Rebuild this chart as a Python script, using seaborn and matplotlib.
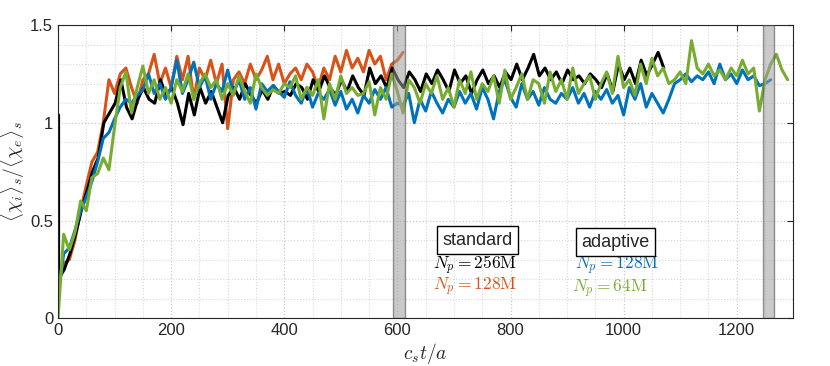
import matplotlib
matplotlib.use("Agg")
import matplotlib.pyplot as plt
import seaborn as sns
import pandas as pd
from matplotlib.ticker import MultipleLocator, FuncFormatter

# time grids (c_s t / a)
t_blue = list(range(0, 1261, 10))
t_green = list(range(0, 1291, 10))
t_black = [1] + list(range(1, 1072, 10))
t_orange = list(range(0, 611, 10))

# standard, N_p = 256M
chi_black = [1.04,
    0.20, 0.25, 0.33, 0.43, 0.55, 0.65, 0.75, 0.82, 1.00, 1.05,
    1.10, 1.22, 1.08, 1.02, 1.12, 1.18, 1.12, 1.10, 1.22, 1.14,
    1.18, 1.10, 0.99, 1.15, 1.04, 1.18, 1.10, 1.16, 1.08, 1.00,
    1.14, 1.18, 1.12, 1.20, 1.14, 1.10, 1.17, 1.12, 1.19, 1.15,
    1.16, 1.14, 1.20, 1.18, 1.12, 1.22, 1.16, 1.24, 1.18, 1.14,
    1.22, 1.16, 1.24, 1.18, 1.14, 1.28, 1.20, 1.24, 1.18, 1.28,
    1.22, 1.18, 1.26, 1.22, 1.16, 1.25, 1.20, 1.27, 1.22, 1.16,
    1.27, 1.20, 1.24, 1.15, 1.22, 1.27, 1.20, 1.24, 1.18, 1.26,
    1.22, 1.30, 1.22, 1.28, 1.35, 1.24, 1.28, 1.22, 1.26, 1.20,
    1.27, 1.22, 1.24, 1.20, 1.25, 1.22, 1.18, 1.25, 1.16, 1.30,
    1.22, 1.28, 1.20, 1.32, 1.24, 1.30, 1.36, 1.28]

# standard, N_p = 128M
chi_orange = [
    0.22, 0.28, 0.30, 0.40, 0.55, 0.68, 0.80, 0.85, 1.00, 1.22,
    1.15, 1.25, 1.28, 1.18, 1.10, 1.22, 1.25, 1.35, 1.20, 1.28,
    1.18, 1.34, 1.22, 1.34, 1.12, 1.28, 1.22, 1.32, 1.20, 1.30,
    0.97, 1.22, 1.26, 1.20, 1.30, 1.22, 1.27, 1.34, 1.22, 1.30,
    1.20, 1.25, 1.28, 1.22, 1.30, 1.26, 1.18, 1.28, 1.22, 1.34,
    1.26, 1.37, 1.28, 1.33, 1.26, 1.37, 1.30, 1.34, 1.22, 1.30,
    1.32, 1.36]

# adaptive, N_p = 128M
chi_blue = [
    0.12, 0.33, 0.36, 0.45, 0.55, 0.62, 0.70, 0.80, 0.92, 0.95,
    1.02, 1.08, 1.12, 1.10, 1.14, 1.17, 1.25, 1.15, 1.20, 1.12,
    1.18, 1.32, 1.15, 1.22, 1.31, 1.18, 1.24, 1.12, 1.20, 1.16,
    1.27, 1.15, 1.22, 1.12, 1.18, 1.07, 1.20, 1.16, 1.19, 1.16,
    1.13, 1.21, 1.14, 1.10, 1.18, 1.08, 1.15, 1.12, 1.17, 1.09,
    1.16, 1.07, 1.12, 1.05, 1.14, 1.10, 1.17, 1.12, 1.18, 1.08,
    1.10, 1.09, 1.15, 1.00, 1.12, 1.06, 1.16, 1.10, 1.05, 1.12,
    1.08, 1.16, 1.10, 1.15, 1.07, 1.18, 1.12, 1.02, 1.16, 1.22,
    1.13, 1.08, 1.20, 1.12, 1.16, 1.09, 1.18, 1.12, 1.10, 1.15,
    1.12, 1.18, 1.10, 1.15, 1.08, 1.16, 1.12, 1.17, 1.10, 1.14,
    1.04, 1.18, 1.12, 1.20, 1.08, 1.15, 1.10, 1.05, 1.12, 1.20,
    1.22, 1.25, 1.21, 1.24, 1.22, 1.26, 1.20, 1.30, 1.22, 1.25,
    1.20, 1.27, 1.22, 1.24, 1.19, 1.20, 1.22]

# adaptive, N_p = 64M
chi_green = [
    0.00, 0.43, 0.35, 0.44, 0.60, 0.55, 0.72, 0.74, 0.82, 0.76,
    0.98, 1.18, 1.26, 1.05, 1.18, 1.29, 1.15, 1.22, 1.12, 1.18,
    1.10, 1.22, 1.16, 1.25, 1.12, 1.20, 1.25, 1.18, 1.22, 1.12,
    1.20, 1.14, 1.24, 1.16, 1.10, 1.25, 1.18, 1.14, 1.17, 1.15,
    1.20, 1.18, 1.24, 1.12, 1.18, 1.14, 1.22, 1.02, 1.20, 1.12,
    1.24, 1.15, 1.18, 1.14, 1.15, 1.21, 1.04, 1.18, 1.12, 1.25,
    1.16, 1.05, 1.22, 1.18, 1.10, 1.20, 1.15, 1.24, 1.12, 1.18,
    1.08, 1.22, 1.15, 1.26, 1.12, 1.20, 1.16, 1.24, 1.10, 1.27,
    1.12, 1.18, 1.25, 1.12, 1.22, 1.20, 1.10, 1.26, 1.16, 1.22,
    1.12, 1.28, 1.15, 1.20, 1.24, 1.12, 1.20, 1.26, 1.15, 1.34,
    1.18, 1.22, 1.14, 1.30, 1.20, 1.33, 1.24, 1.28, 1.20, 1.22,
    1.26, 1.20, 1.42, 1.28, 1.25, 1.30, 1.24, 1.27, 1.22, 1.28,
    1.24, 1.32, 1.25, 1.28, 1.06, 1.22, 1.30, 1.35, 1.27, 1.22]

bands = [(592, 613), (1246, 1266)]

sns.set_style("white")
plt.rcParams['font.family'] = ['Liberation Sans', 'DejaVu Sans']
plt.rcParams['mathtext.fontset'] = 'cm'

fig = plt.figure(figsize=(8.3, 3.66), dpi=100)
ax = fig.add_axes([0.0699, 0.1303, 0.8859, 0.8014])

series = [
    (t_orange, chi_orange, '#D95319'),
    (t_black, chi_black, 'black'),
    (t_blue, chi_blue, '#0072BD'),
    (t_green, chi_green, '#77AC30'),
]
for t, v, c in series:
    df = pd.DataFrame({'t': t, 'v': v})
    sns.lineplot(data=df, x='t', y='v', color=c, lw=2.2, sort=False,
                 estimator=None, ax=ax)

for a, b in bands:
    ax.axvspan(a, b, facecolor='#a0a0a0', alpha=0.55, edgecolor='#444444',
               lw=1.0, zorder=5)

ax.set_xlim(0, 1300)
ax.set_ylim(0, 1.5)
ax.xaxis.set_major_locator(MultipleLocator(200))
ax.xaxis.set_minor_locator(MultipleLocator(50))
ax.yaxis.set_major_locator(MultipleLocator(0.5))
ax.yaxis.set_minor_locator(MultipleLocator(0.1))
ax.yaxis.set_major_formatter(FuncFormatter(lambda v, p: f"{v:g}"))
ax.grid(which='major', color='#c8c8c8', ls=':', lw=0.9)
ax.grid(which='minor', color='#d8d8d8', ls=':', lw=0.8)
ax.tick_params(which='major', direction='in', length=4, top=True, right=True,
               labelsize=12, colors='#262626', width=0.8)
ax.tick_params(which='minor', length=0)
for s in ax.spines.values():
    s.set_color('#262626')
    s.set_linewidth(0.8)
    s.set_visible(True)

ax.set_xlabel(r'$c_s t / a$', fontsize=14, color='#262626', labelpad=2)
ax.set_ylabel(r'$\langle \chi_i \rangle_s / \langle \chi_e \rangle_s$',
              fontsize=14, color='#262626', labelpad=2)

box = dict(boxstyle='square,pad=0.3', facecolor='white', edgecolor='black', lw=1)
ax.text(741, 0.40, 'standard', ha='center', va='center', fontsize=13, bbox=box, zorder=6)
ax.text(985, 0.39, 'adaptive', ha='center', va='center', fontsize=13, bbox=box, zorder=6)
ax.text(737, 0.268, r'$N_p = 256\mathrm{M}$', ha='center', va='center', fontsize=12.5, color='black')
ax.text(737, 0.158, r'$N_p = 128\mathrm{M}$', ha='center', va='center', fontsize=12.5, color='#D95319')
ax.text(988, 0.270, r'$N_p = 128\mathrm{M}$', ha='center', va='center', fontsize=12.5, color='#0072BD')
ax.text(975, 0.150, r'$N_p = 64\mathrm{M}$', ha='center', va='center', fontsize=12.5, color='#77AC30')

fig.savefig('out.png', dpi=100)
